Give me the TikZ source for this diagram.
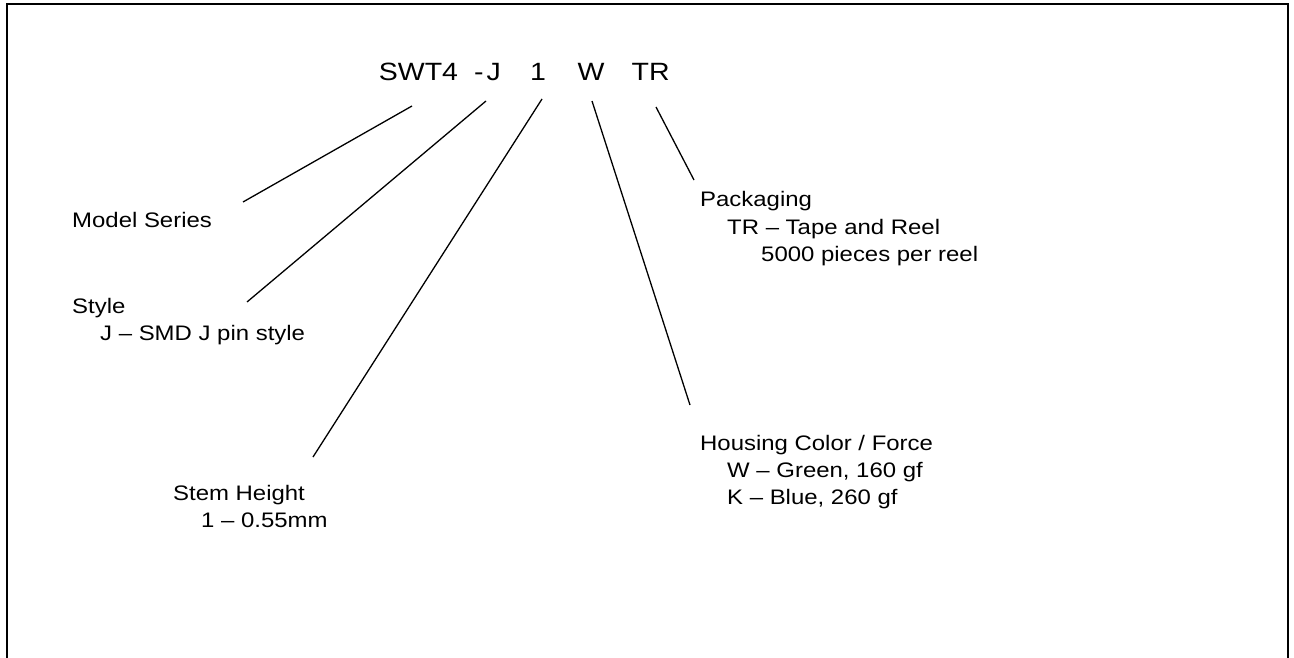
\documentclass[tikz,border=0pt]{standalone}
\usepackage{fontspec}
\setmainfont{Liberation Sans}[FakeStretch=1.14]
\begin{document}
\begin{tikzpicture}[x=1pt,y=-1pt,
  lbl/.style={anchor=base west, inner sep=0pt, font=\fontsize{21}{25}\selectfont},
  ttl/.style={anchor=base west, inner sep=0pt, font=\fontsize{25}{30}\selectfont},
  lead/.style={line width=1.3pt},
  frame/.style={line width=2.2pt}]
\useasboundingbox (0,0) rectangle (1294,658);
\draw[frame] (7.3,658) -- (7.3,4.3) -- (1288.3,4.3) -- (1288.3,658);
% title
\node[ttl] (tA) at (378.7,81) {SWT4};
\node[ttl] (th) at (474,81) {-};
\node[ttl] (tJ) at (486.5,81) {J};
\node[ttl] (t1) at (530,81) {1};
\node[ttl] (tW) at (577.5,81) {W};
\node[ttl] (tTR) at (631.4,81) {TR};
% labels
\node[lbl] (ms) at (72,227) {Model Series};
\node[lbl] (st1) at (72,313) {Style};
\node[lbl] (st2) at (100,340) {J – SMD J pin style};
\node[lbl] (sh1) at (173,500) {Stem Height};
\node[lbl] (sh2) at (201,527) {1 – 0.55mm};
\node[lbl] (pk1) at (700,207) {Packaging};
\node[lbl] (pk2) at (727,234) {TR – Tape and Reel};
\node[lbl] (pk3) at (761,261.5) {5000 pieces per reel};
\node[lbl] (hc1) at (700,450) {Housing Color / Force};
\node[lbl] (hc2) at (727,477) {W – Green, 160 gf};
\node[lbl] (hc3) at (727,504) {K – Blue, 260 gf};
% connector end points
\coordinate (a1) at (412,106);
\coordinate (a2) at (243,202);
\coordinate (b1) at (486,101);
\coordinate (b2) at (247,302);
\coordinate (c1) at (542,99);
\coordinate (c2) at (313,457);
\coordinate (d1) at (592,101);
\coordinate (d2) at (690,405);
\coordinate (e1) at (656,107);
\coordinate (e2) at (694,180);
\draw[lead] (a1) -- (a2);
\draw[lead] (b1) -- (b2);
\draw[lead] (c1) -- (c2);
\draw[lead] (d1) -- (d2);
\draw[lead] (e1) -- (e2);
\end{tikzpicture}
\end{document}
